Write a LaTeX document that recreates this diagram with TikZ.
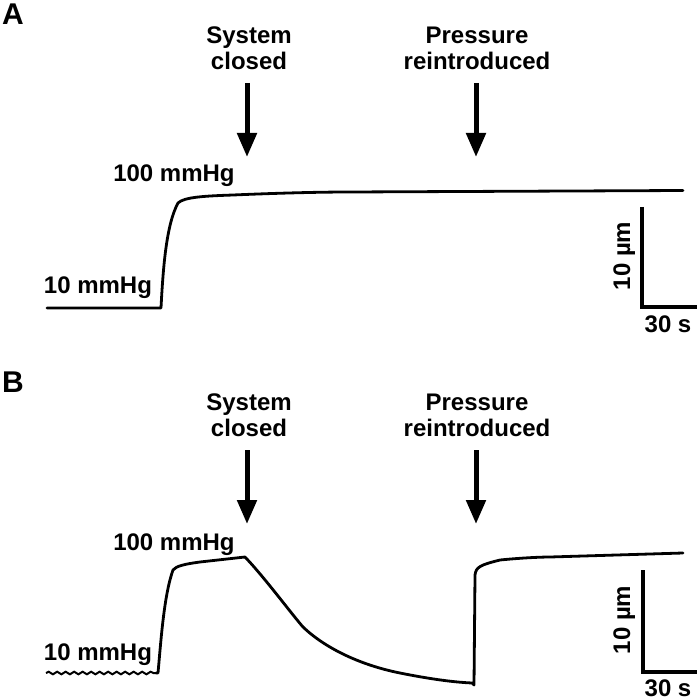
\documentclass[tikz,border=0pt]{standalone}
\usepackage{fontspec}
\setmainfont{Liberation Sans}
\usetikzlibrary{arrows.meta,decorations.pathmorphing}
\begin{document}
\begin{tikzpicture}[x=1pt,y=-1pt,
  lbl/.style={font=\bfseries\fontsize{24}{26}\selectfont,inner sep=0pt},
  panel/.style={font=\bfseries\fontsize{30}{32}\selectfont,inner sep=0pt},
  bigarrow/.style={line width=5pt,-{Triangle[width=19pt,length=24pt]}},
  trace/.style={line width=2.8pt,line join=round,line cap=round},
  bar/.style={line width=4pt}]
\useasboundingbox (0,0) rectangle (700,700);
% ---------- Panel A ----------
\node[panel,anchor=base] (pA) at (13,25) {A};
\node[lbl,align=center,anchor=south] (scA) at (249,70) {System\\closed};
\node[lbl,align=center,anchor=south] (prA) at (477,70) {Pressure\\reintroduced};
\coordinate (a1s) at (247,83); \coordinate (a1e) at (247,157);
\coordinate (a2s) at (476,83); \coordinate (a2e) at (476,157);
\draw[bigarrow] (a1s) -- (a1e);
\draw[bigarrow] (a2s) -- (a2e);
\node[lbl,anchor=base] (hiA) at (174,182) {100 mmHg};
\node[lbl,anchor=base] (loA) at (98,293) {10 mmHg};
\draw[trace] (47,308) -- (161,308)
  .. controls (163,270) and (166,225) .. (178,203)
  .. controls (184,197) and (205,196) .. (233,195)
  .. controls (280,193) and (320,192) .. (350,192)
  -- (683,190.5);
\coordinate (sbAt) at (642,207); \coordinate (sbAc) at (642,307); \coordinate (sbAr) at (697,307);
\draw[bar] (sbAt) -- (sbAc) -- (sbAr);
\node[lbl,rotate=90,anchor=base] (umA) at (630,256) {10 µm};
\node[lbl,anchor=base] (sA) at (668,332) {30 s};
% ---------- Panel B ----------
\node[panel,anchor=base] (pB) at (13,392) {B};
\node[lbl,align=center,anchor=south] (scB) at (249,437) {System\\closed};
\node[lbl,align=center,anchor=south] (prB) at (477,437) {Pressure\\reintroduced};
\coordinate (b1s) at (247,450); \coordinate (b1e) at (247,524);
\coordinate (b2s) at (476,450); \coordinate (b2e) at (476,524);
\draw[bigarrow] (b1s) -- (b1e);
\draw[bigarrow] (b2s) -- (b2e);
\node[lbl,anchor=base] (hiB) at (174,550) {100 mmHg};
\node[lbl,anchor=base] (loB) at (98,660) {10 mmHg};
\draw[line width=2pt,decorate,decoration={snake,segment length=8.5pt,amplitude=1.3pt}] (46,673) -- (156,673);
\draw[trace] (156,673) -- (158,673)
  .. controls (161,640) and (164,595) .. (173,570)
  .. controls (176,566) and (185,564) .. (200,562)
  -- (245,557)
  .. controls (265,578) and (290,612) .. (303,627)
  .. controls (325,648) and (360,665) .. (400,673)
  .. controls (425,678) and (450,682) .. (472,683)
  -- (474,685) -- (475,575)
  .. controls (476,567) and (480,565) .. (500,560)
  .. controls (520,558) and (540,557) .. (550,557)
  -- (683,553);
\coordinate (sbBt) at (643,570); \coordinate (sbBc) at (643,672); \coordinate (sbBr) at (697,672);
\draw[bar] (sbBt) -- (sbBc) -- (sbBr);
\node[lbl,rotate=90,anchor=base] (umB) at (630,620) {10 µm};
\node[lbl,anchor=base] (sB) at (668,696) {30 s};
\end{tikzpicture}
\end{document}
